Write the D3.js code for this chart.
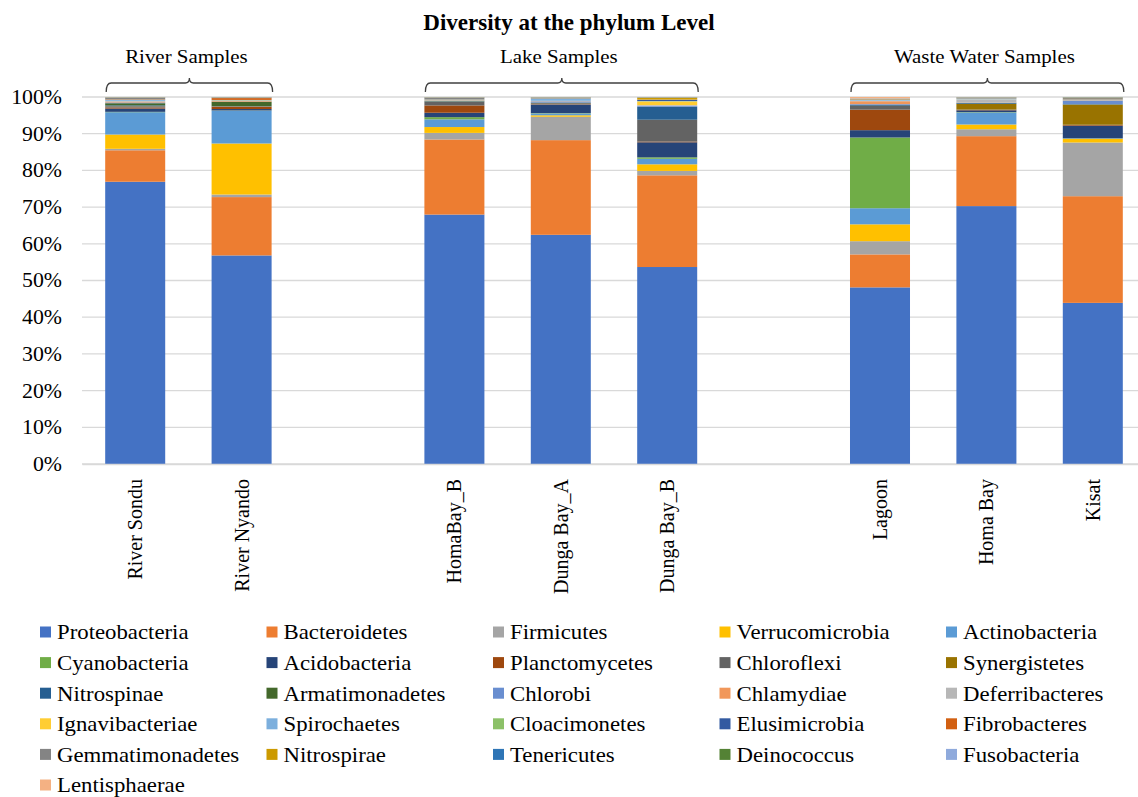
<!DOCTYPE html>
<html>
<head>
<meta charset="utf-8">
<script src="https://cdn.jsdelivr.net/npm/d3@7"></script>
<style>
  body { margin: 0; background: #fff; }
  text { font-family: "Times New Roman", "Liberation Serif", serif; fill: #000; }
</style>
</head>
<body>
<div id="myDiagram"></div>
<script>
// categories on the x axis (two blank slots separate the groups)
var categories = ["River Sondu", "River Nyando", " ", "HomaBay_B", "Dunga Bay_A", "Dunga Bay_B", "  ", "Lagoon", "Homa Bay", "Kisat"];
var samples = ["River Sondu", "River Nyando", "HomaBay_B", "Dunga Bay_A", "Dunga Bay_B", "Lagoon", "Homa Bay", "Kisat"];
var groups = ["River Samples", "Lake Samples", "Waste Water Samples"];
var groupMembers = [["River Sondu", "River Nyando"], ["HomaBay_B", "Dunga Bay_B"], ["Lagoon", "Kisat"]];
var yTicks = [0, 0.1, 0.2, 0.3, 0.4, 0.5, 0.6, 0.7, 0.8, 0.9, 1];

var phyla = ["Proteobacteria", "Bacteroidetes", "Firmicutes", "Verrucomicrobia", "Actinobacteria",
  "Cyanobacteria", "Acidobacteria", "Planctomycetes", "Chloroflexi", "Synergistetes",
  "Nitrospinae", "Armatimonadetes", "Chlorobi", "Chlamydiae", "Deferribacteres",
  "Ignavibacteriae", "Spirochaetes", "Cloacimonetes", "Elusimicrobia", "Fibrobacteres",
  "Gemmatimonadetes", "Nitrospirae", "Tenericutes", "Deinococcus", "Fusobacteria",
  "Lentisphaerae"];

var colors = ["#4472C4", "#ED7D31", "#A5A5A5", "#FFC000", "#5B9BD5",
  "#70AD47", "#264478", "#9E480E", "#636363", "#997300",
  "#255E91", "#43682B", "#698ED0", "#F1975A", "#B7B7B7",
  "#FFCD33", "#7CAFDD", "#8CC168", "#335AA1", "#D26012",
  "#848484", "#CC9A00", "#2E75B6", "#548235", "#8FAADC",
  "#F4B183"];

// relative abundance (%) per sample, in the order of "samples"
var Proteobacteria   = [77.1, 57.2, 68.1, 62.7, 53.7, 48.2, 70.8, 44.1];
var Bacteroidetes    = [8.6, 16.0, 20.5, 25.9, 25.0, 9.0, 19.2, 29.2];
var Firmicutes       = [0.4, 0.7, 1.8, 6.4, 1.2, 3.6, 1.9, 14.7];
var Verrucomicrobia  = [3.9, 14.0, 1.6, 0.4, 1.8, 4.6, 1.3, 1.0];
var Actinobacteria   = [6.1, 9.0, 2.1, 0.5, 1.5, 4.4, 3.3, 0.1];
var Cyanobacteria    = [0.1, 0.05, 0.6, 0.1, 0.4, 19.3, 0.1, 0.05];
var Acidobacteria    = [0.9, 0.4, 1.2, 2.3, 4.1, 2.0, 0.5, 3.4];
var Planctomycetes   = [0.3, 0.6, 2.0, 0.1, 0.2, 5.6, 0.1, 0.2];
var Chloroflexi      = [0.3, 0.1, 1.0, 0.3, 5.9, 1.0, 0.1, 0.1];
var Synergistetes    = [0.05, 0.05, 0.05, 0.05, 0.05, 0.05, 1.6, 5.5];
var Nitrospinae      = [0.2, 0.05, 0.1, 0.1, 3.5, 0.2, 0.2, 0.1];
var Armatimonadetes  = [0.6, 1.2, 0.1, 0.05, 0.05, 0.05, 0.05, 0.05];
var Chlorobi         = [0.2, 0.05, 0.1, 0.3, 0.2, 0.2, 0.05, 1.0];
var Chlamydiae       = [0.2, 0.2, 0.05, 0.05, 0.05, 0.8, 0.05, 0.05];
var Deferribacteres  = [0.2, 0.05, 0.05, 0.05, 0.2, 0.1, 0.8, 0.05];
var Ignavibacteriae  = [0.05, 0.05, 0.05, 0.05, 1.0, 0.05, 0.05, 0.05];
var Spirochaetes     = [0.3, 0.05, 0.1, 0.6, 0.05, 0.2, 0.2, 0.05];
var Cloacimonetes    = [0.05, 0.05, 0.05, 0.05, 0.05, 0.05, 0.05, 0.05];
var Elusimicrobia    = [0.05, 0.05, 0.05, 0.05, 0.3, 0.05, 0.05, 0.05];
var Fibrobacteres    = [0.1, 0.5, 0.05, 0.05, 0.05, 0.05, 0.05, 0.05];
var Gemmatimonadetes = [0.3, 0.05, 0.3, 0.05, 0.05, 0.05, 0.05, 0.3];
var Nitrospirae      = [0.05, 0.05, 0.05, 0.05, 0.5, 0.05, 0.05, 0.05];
var Tenericutes      = [0.05, 0.05, 0.05, 0.05, 0.05, 0.05, 0.05, 0.05];
var Deinococcus      = [0.05, 0.05, 0.05, 0.05, 0.05, 0.05, 0.05, 0.1];
var Fusobacteria     = [0.05, 0.05, 0.05, 0.05, 0.05, 0.05, 0.05, 0.05];
var Lentisphaerae    = [0.05, 0.05, 0.05, 0.05, 0.05, 0.4, 0.05, 0.05];

var seriesValues = [Proteobacteria, Bacteroidetes, Firmicutes, Verrucomicrobia, Actinobacteria,
  Cyanobacteria, Acidobacteria, Planctomycetes, Chloroflexi, Synergistetes,
  Nitrospinae, Armatimonadetes, Chlorobi, Chlamydiae, Deferribacteres,
  Ignavibacteriae, Spirochaetes, Cloacimonetes, Elusimicrobia, Fibrobacteres,
  Gemmatimonadetes, Nitrospirae, Tenericutes, Deinococcus, Fusobacteria,
  Lentisphaerae];

// build rows for d3.stack
var rows = samples.map(function(s, i) {
  var r = { sample: s };
  phyla.forEach(function(p, j) { r[p] = seriesValues[j][i]; });
  return r;
});

var width = 1138, height = 797;
var plotLeft = 82, plotRight = 1146, plotTop = 97, plotBottom = 464;
var serif = '"Times New Roman", "Liberation Serif", serif';

var svg = d3.select('#myDiagram')
  .append('svg')
  .attr('width', width)
  .attr('height', height)
  .style('background', '#fff');

var x = d3.scaleBand()
  .domain(categories)
  .range([plotLeft, plotRight])
  .paddingInner(0.436)
  .paddingOuter(0.218);

var y = d3.scaleLinear()
  .domain([0, 1])
  .range([plotBottom, plotTop]);

var color = d3.scaleOrdinal().domain(phyla).range(colors);

// gridlines
svg.append("g")
  .selectAll("line")
  .data(yTicks)
  .enter()
  .append("line")
    .attr("x1", plotLeft)
    .attr("x2", plotRight)
    .attr("y1", function(d) { return y(d); })
    .attr("y2", function(d) { return y(d); })
    .style("stroke", "#D9D9D9")
    .style("stroke-width", 1.3);

// y axis labels (text in the reference is a little wide, so stretch it)
var yAxis = svg.append("g")
  .attr("transform", "translate(" + (plotLeft - 20) + ",0)")
  .call(d3.axisLeft(y).tickValues(yTicks).tickFormat(d3.format(".0%")).tickSize(0));
yAxis.select(".domain").remove();
yAxis.selectAll("text")
  .style("font-family", serif)
  .style("font-size", "20px")
  .attr("x", 0)
  .attr("transform", "scale(1.09,1)");

// stacked bars
var stack = d3.stack().keys(phyla).offset(d3.stackOffsetExpand);
var stacked = stack(rows);

svg.append("g")
  .selectAll("g")
  .data(stacked)
  .enter()
  .append("g")
    .style("fill", function(d) { return color(d.key); })
  .selectAll("rect")
  .data(function(d) { return d; })
  .enter()
  .append("rect")
    .attr("x", function(d) { return x(d.data.sample); })
    .attr("y", function(d) { return y(d[1]); })
    .attr("height", function(d) { return Math.max(0, y(d[0]) - y(d[1])); })
    .attr("width", x.bandwidth());

// x axis
var xAxis = svg.append("g")
  .attr("transform", "translate(0," + plotBottom + ")")
  .call(d3.axisBottom(x).tickSize(0));
xAxis.select(".domain").style("stroke", "#D9D9D9").style("stroke-width", 1.3);
xAxis.selectAll("text")
  .style("font-family", serif)
  .style("font-size", "20px")
  .attr("text-anchor", "end")
  .attr("transform", "rotate(-90)")
  .attr("x", -15)
  .attr("y", 0)
  .attr("dy", "0.35em");

// title
svg.append("text")
  .attr("x", 569)
  .attr("y", 30)
  .attr("text-anchor", "middle")
  .style("font-size", "23px")
  .style("font-weight", "bold")
  .text("Diversity at the phylum Level");

// group brackets and labels
groups.forEach(function(g, i) {
  var x0 = x(groupMembers[i][0]) + 1;
  var x1 = x(groupMembers[i][1]) + x.bandwidth() + 1;
  var cx = (x0 + x1) / 2;
  var yl = 83;
  var path = "M" + x0 + "," + (yl + 9) +
    " Q" + x0 + "," + yl + " " + (x0 + 5) + "," + yl +
    " L" + (cx - 4) + "," + yl +
    " Q" + cx + "," + yl + " " + cx + "," + (yl - 5) +
    " Q" + cx + "," + yl + " " + (cx + 4) + "," + yl +
    " L" + (x1 - 5) + "," + yl +
    " Q" + x1 + "," + yl + " " + x1 + "," + (yl + 9);
  svg.append("path")
    .attr("d", path)
    .style("fill", "none")
    .style("stroke", "#404040")
    .style("stroke-width", 1.3);
  svg.append("text")
    .attr("transform", "translate(" + (cx - 3) + ",63) scale(1.1,1)")
    .attr("text-anchor", "middle")
    .style("font-size", "19px")
    .text(g);
});

// legend
var legend = svg.append("g")
  .selectAll("g")
  .data(phyla)
  .enter()
  .append("g")
    .attr("transform", function(d, i) {
      return "translate(" + (40 + (i % 5) * 226.5) + "," + (632 + Math.floor(i / 5) * 30.6) + ")";
    });
legend.append("rect")
  .attr("x", 0)
  .attr("y", -5.5)
  .attr("width", 11)
  .attr("height", 11)
  .style("fill", function(d) { return color(d); });
legend.append("text")
  .attr("transform", "translate(17,0) scale(1.085,1)")
  .attr("dy", "0.35em")
  .style("font-size", "21px")
  .text(function(d) { return d; });
</script>
</body>
</html>
